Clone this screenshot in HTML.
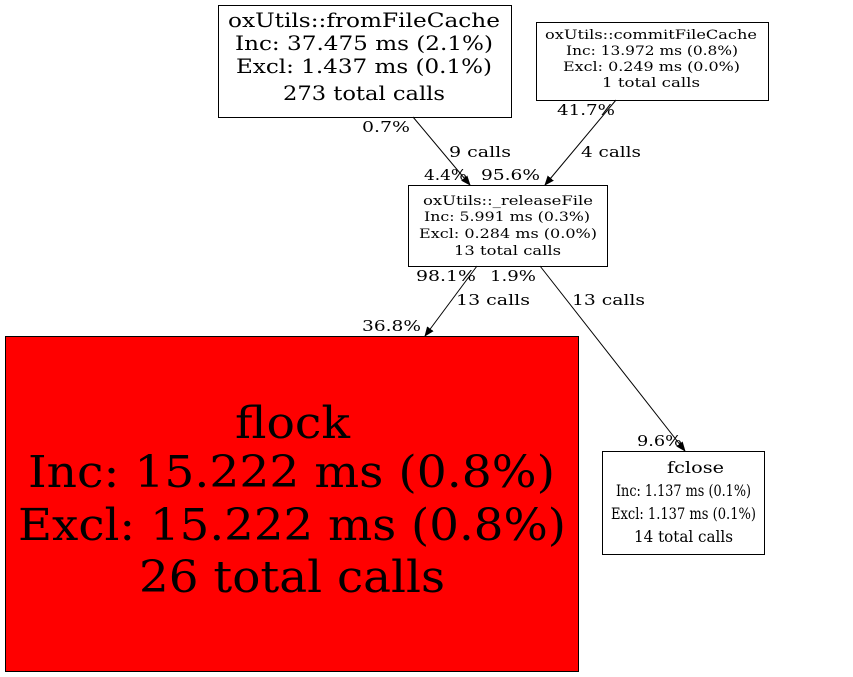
<!DOCTYPE html>
<html><head><meta charset="utf-8"><style>
html,body{margin:0;padding:0;background:#fff;}
svg{display:block}
text{font-family:"DejaVu Serif","Liberation Serif",serif;}
.l{font-size:15px;}
.s{font-size:13px;}
</style></head><body>
<svg width="853" height="677" viewBox="0 0 853 677" xmlns="http://www.w3.org/2000/svg">
<defs><marker id="a" markerWidth="10" markerHeight="10" refX="9" refY="5" orient="auto" markerUnits="userSpaceOnUse"><path d="M0,1 L10,5 L0,9 z" fill="#000"/></marker></defs>
<g fill="none" stroke="#000" stroke-width="1">
<rect x="218.5" y="5.5" width="293" height="112"/>
<rect x="536.5" y="22.5" width="232" height="78"/>
<rect x="408.5" y="185.5" width="199" height="81"/>
<rect x="5.5" y="336.5" width="573" height="335" fill="#ff0000"/>
<rect x="602.5" y="451.5" width="162" height="103"/>
<line x1="413" y1="117" x2="470" y2="185" marker-end="url(#a)"/>
<line x1="616" y1="100" x2="545" y2="185" marker-end="url(#a)"/>
<line x1="477" y1="266" x2="425" y2="336" marker-end="url(#a)"/>
<line x1="540" y1="266" x2="685" y2="451" marker-end="url(#a)"/>
</g>
<g fill="#000">
<g font-size="20">
<text x="228" y="27" textLength="272" lengthAdjust="spacingAndGlyphs">oxUtils::fromFileCache</text>
<text x="235" y="50" textLength="258" lengthAdjust="spacingAndGlyphs">Inc: 37.475 ms (2.1%)</text>
<text x="236" y="73" textLength="256" lengthAdjust="spacingAndGlyphs">Excl: 1.437 ms (0.1%)</text>
<text x="283" y="100" textLength="162" lengthAdjust="spacingAndGlyphs">273 total calls</text>
</g>
<g class="s">
<text x="545" y="39" textLength="212" lengthAdjust="spacingAndGlyphs">oxUtils::commitFileCache</text>
<text x="566" y="55" textLength="172" lengthAdjust="spacingAndGlyphs">Inc: 13.972 ms (0.8%)</text>
<text x="563" y="71" textLength="177" lengthAdjust="spacingAndGlyphs">Excl: 0.249 ms (0.0%)</text>
<text x="602" y="87" textLength="98" lengthAdjust="spacingAndGlyphs">1 total calls</text>
<text x="423" y="205" textLength="170" lengthAdjust="spacingAndGlyphs">oxUtils::_releaseFile</text>
<text x="424" y="221" textLength="166" lengthAdjust="spacingAndGlyphs">Inc: 5.991 ms (0.3%)</text>
<text x="419" y="238" textLength="178" lengthAdjust="spacingAndGlyphs">Excl: 0.284 ms (0.0%)</text>
<text x="454" y="255" textLength="107" lengthAdjust="spacingAndGlyphs">13 total calls</text>
</g>
<g font-size="44">
<text x="235" y="438" textLength="115" lengthAdjust="spacingAndGlyphs">flock</text>
<text x="28" y="487" textLength="527" lengthAdjust="spacingAndGlyphs">Inc: 15.222 ms (0.8%)</text>
<text x="18" y="540" textLength="548" lengthAdjust="spacingAndGlyphs">Excl: 15.222 ms (0.8%)</text>
<text x="139" y="592" textLength="306" lengthAdjust="spacingAndGlyphs">26 total calls</text>
</g>
<g font-size="16">
<text x="667" y="473" textLength="57" lengthAdjust="spacingAndGlyphs">fclose</text>
<text x="616" y="496" textLength="135" lengthAdjust="spacingAndGlyphs">Inc: 1.137 ms (0.1%)</text>
<text x="611" y="519" textLength="145" lengthAdjust="spacingAndGlyphs">Excl: 1.137 ms (0.1%)</text>
<text x="634" y="542" textLength="99" lengthAdjust="spacingAndGlyphs">14 total calls</text>
</g>
<g class="l">
<text x="362" y="132" textLength="48" lengthAdjust="spacingAndGlyphs">0.7%</text>
<text x="449" y="157" textLength="62" lengthAdjust="spacingAndGlyphs">9 calls</text>
<text x="424" y="180" textLength="43" lengthAdjust="spacingAndGlyphs">4.4%</text>
<text x="557" y="115" textLength="58" lengthAdjust="spacingAndGlyphs">41.7%</text>
<text x="581" y="157" textLength="60" lengthAdjust="spacingAndGlyphs">4 calls</text>
<text x="481" y="180" textLength="59" lengthAdjust="spacingAndGlyphs">95.6%</text>
<text x="416" y="281" textLength="60" lengthAdjust="spacingAndGlyphs">98.1%</text>
<text x="490" y="281" textLength="46" lengthAdjust="spacingAndGlyphs">1.9%</text>
<text x="456" y="305" textLength="74" lengthAdjust="spacingAndGlyphs">13 calls</text>
<text x="572" y="305" textLength="73" lengthAdjust="spacingAndGlyphs">13 calls</text>
<text x="362" y="331" textLength="59" lengthAdjust="spacingAndGlyphs">36.8%</text>
<text x="637" y="446" textLength="45" lengthAdjust="spacingAndGlyphs">9.6%</text>
</g>
</g>
</svg>
</body></html>
